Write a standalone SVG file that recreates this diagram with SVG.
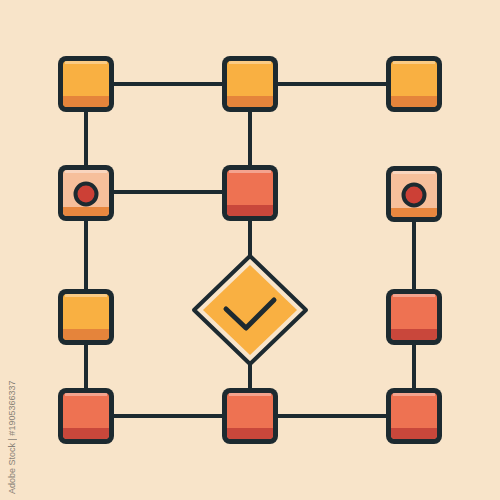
<svg xmlns="http://www.w3.org/2000/svg" xmlns:xlink="http://www.w3.org/1999/xlink" width="500" height="500" viewBox="0 0 500 500">
<style>
.wire{stroke:#1d2a30;stroke-width:4;fill:none;stroke-linecap:round}
.frame{fill:#1d2a30}
.hl{fill:#ffffff;opacity:0.35}
.wm{font-family:"Liberation Sans",Arial,sans-serif;font-size:9px;fill:#6e6a64;opacity:0.8}
</style>
<defs>
<g id="boxOrange">
<rect x="-28" y="-28" width="56" height="56" rx="8" class="frame"/>
<rect x="-23" y="-23" width="46" height="46" rx="4" fill="#f9b042"/>
<rect x="-23" y="12" width="46" height="11" rx="4" fill="#e5843b"/>
<rect x="-23" y="12" width="46" height="5" fill="#e5843b"/>
<rect x="-21" y="-23" width="42" height="3" class="hl"/>
</g>
<g id="boxRed">
<rect x="-28" y="-28" width="56" height="56" rx="8" class="frame"/>
<rect x="-23" y="-23" width="46" height="46" rx="4" fill="#ee7252"/>
<rect x="-23" y="12" width="46" height="11" rx="4" fill="#c9473b"/>
<rect x="-23" y="12" width="46" height="5" fill="#c9473b"/>
<rect x="-21" y="-23" width="42" height="3" class="hl"/>
</g>
<g id="boxDot">
<rect x="-28" y="-28" width="56" height="56" rx="8" class="frame"/>
<rect x="-23" y="-23" width="46" height="46" rx="4" fill="#f6bf9b"/>
<rect x="-23" y="14" width="46" height="9" rx="4" fill="#e8873f"/>
<rect x="-23" y="14" width="46" height="4" fill="#e8873f"/>
<rect x="-21" y="-23" width="42" height="3" class="hl"/>
<circle cx="0" cy="1" r="10.5" fill="#cc4036" stroke="#1d2a30" stroke-width="4"/>
</g>
</defs>
<rect width="500" height="500" fill="#f8e4c9"/>
<g id="connectors">
<line class="wire" x1="86" y1="84" x2="414" y2="84"/>
<line class="wire" x1="86" y1="192" x2="250" y2="192"/>
<line class="wire" x1="86" y1="416" x2="414" y2="416"/>
<line class="wire" x1="86" y1="84" x2="86" y2="416"/>
<line class="wire" x1="250" y1="84" x2="250" y2="256"/>
<line class="wire" x1="250" y1="364" x2="250" y2="416"/>
<line class="wire" x1="414" y1="194" x2="414" y2="416"/>
</g>
<g id="n1"><use xlink:href="#boxOrange" x="86" y="84"/></g>
<g id="n2"><use xlink:href="#boxOrange" x="250" y="84"/></g>
<g id="n3"><use xlink:href="#boxOrange" x="414" y="84"/></g>
<g id="n4"><use xlink:href="#boxDot" x="86" y="193"/></g>
<g id="n5"><use xlink:href="#boxRed" x="250" y="193"/></g>
<g id="n6"><use xlink:href="#boxDot" x="414" y="194"/></g>
<g id="n7"><use xlink:href="#boxOrange" x="86" y="317"/></g>
<g id="n8">
<polygon points="250,256 306,310 250,364 194,310" fill="#f8e4c9" stroke="#1d2a30" stroke-width="4" stroke-linejoin="round"/>
<polygon points="250,265 297,310 250,355 203,310" fill="#f9b042"/>
<polyline points="226,309 246,328 274,300" fill="none" stroke="#1d2a30" stroke-width="5" stroke-linecap="round" stroke-linejoin="round"/>
</g>
<g id="n9"><use xlink:href="#boxRed" x="414" y="317"/></g>
<g id="n10"><use xlink:href="#boxRed" x="86" y="416"/></g>
<g id="n11"><use xlink:href="#boxRed" x="250" y="416"/></g>
<g id="n12"><use xlink:href="#boxRed" x="414" y="416"/></g>
<text class="wm" transform="translate(15,494) rotate(-90)">Adobe Stock | #1905366337</text>
</svg>
